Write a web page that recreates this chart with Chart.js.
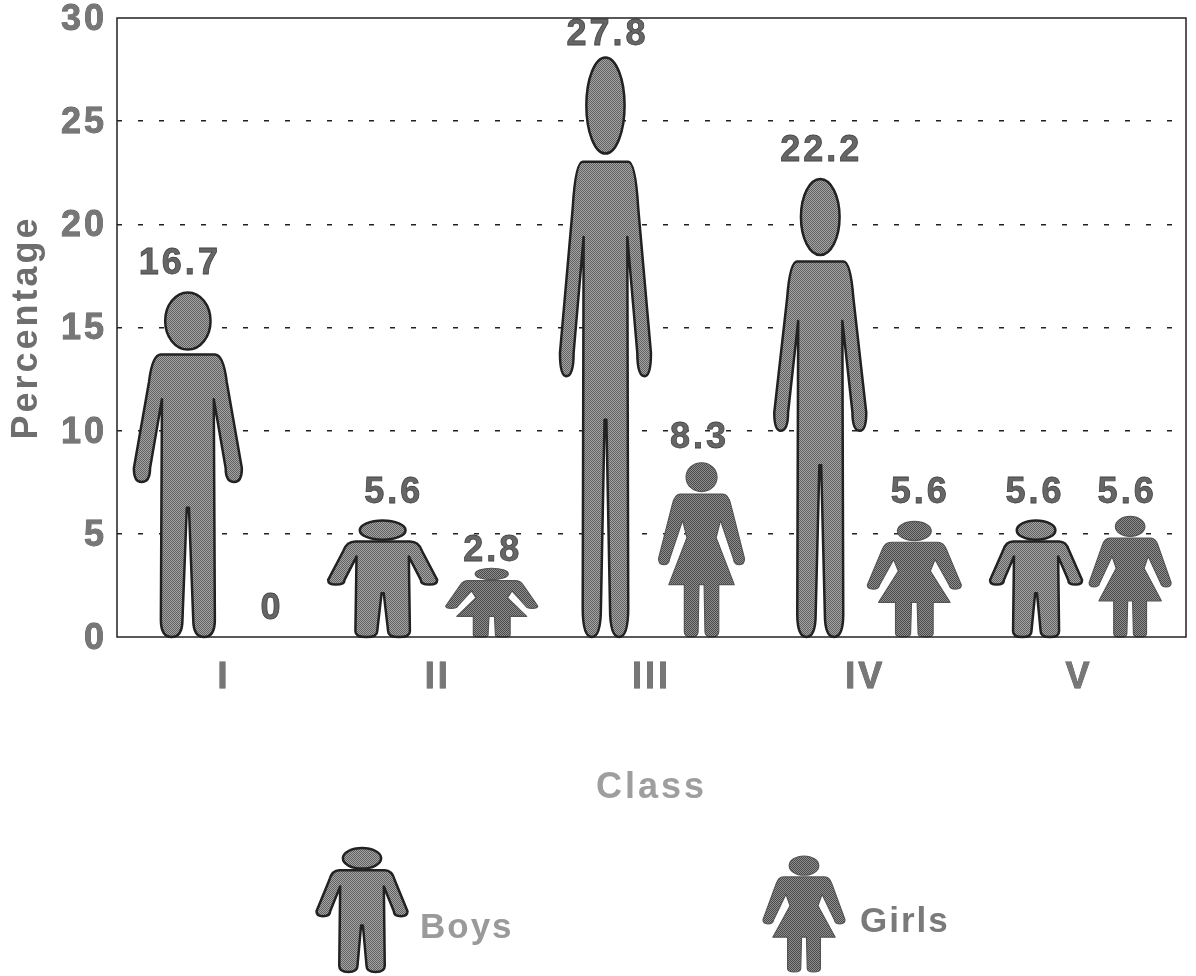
<!DOCTYPE html>
<html>
<head>
<meta charset="utf-8">
<title>Percentage by class</title>
<script src="https://cdn.jsdelivr.net/npm/chart.js@4/dist/chart.umd.min.js"></script>
<style>
  html, body { margin: 0; background: #fff; }
  canvas { display: block; }
</style>
</head>
<body>
<canvas id="classChart" width="1196" height="976"></canvas>
<script>
const categories = ['I', 'II', 'III', 'IV', 'V'];
const boys = [16.7, 5.6, 27.8, 22.2, 5.6];
const girls = [0, 2.8, 8.3, 5.6, 5.6];
const yTicks = [0, 5, 10, 15, 20, 25, 30];

// figure look per bar (px), the source picture is not quite regular
const boyWidth = [108, 109, 91, 92, 92];
const girlWidth = [0, 92, 86, 94, 82];
const boyShift = [11, -8, 1, 2, 4];
const girlShift = [0, 7, 3, 2, 4];
const boyExtra = [0, 1, 6, 0, 1];
const girlExtra = [0, 11, 3, 0, 5];
const girlLabelShift = [0, 7, 0, 7, 0];

// right half of each figure, a third element 1 = curve control point
const boyShape = [[0,.18],[.25,.18],[.33,.18,1],[.36,.26],[.5,.51],[.5,.55,1],[.43,.55],[.35,.55,1],[.35,.51],[.24,.31],[.25,.95],[.25,1,1],[.15,1],[.05,1,1],[.05,.95],[.01,.625]];
const girlShape = [[0,.18],[.25,.18],[.31,.18,1],[.34,.24],[.5,.55],[.5,.585,1],[.44,.585],[.38,.585,1],[.37,.55],[.22,.33],[.17,.43],[.38,.7],[.2,.7],[.2,.97],[.2,1,1],[.12,1],[.04,1,1],[.04,.97],[.03,.7],[0,.7]];

function halftone(ctx, dark, light) {
    const c = document.createElement('canvas');
    c.width = 2;
    c.height = 2;
    const p = c.getContext('2d');
    p.fillStyle = light;
    p.fillRect(0, 0, 2, 2);
    p.fillStyle = dark;
    p.fillRect(0, 0, 1, 1);
    p.fillRect(1, 1, 1, 1);
    return ctx.createPattern(c, 'repeat');
}

function tracePoints(ctx, pts, cx, top, w, h, dir) {
    for (let i = 0; i < pts.length; i++) {
        const pt = pts[i];
        const x = cx + dir * pt[0] * w;
        const y = top + pt[1] * h;
        if (pt[2] && pts[i + 1]) {
            const next = pts[i + 1];
            ctx.quadraticCurveTo(x, y, cx + dir * next[0] * w, top + next[1] * h);
            i++;
        } else {
            ctx.lineTo(x, y);
        }
    }
}

// cx = middle, top/bottom in pixels, w = full width
function drawFigure(ctx, kind, cx, top, bottom, w) {
    const shape = kind === 'boy' ? boyShape : girlShape;
    const h = bottom - top;
    ctx.save();
    ctx.lineJoin = 'round';
    if (kind === 'boy') {
        ctx.fillStyle = halftone(ctx, '#616161', '#a4a4a4');
        ctx.strokeStyle = '#222';
        ctx.lineWidth = 2.5;
    } else {
        ctx.fillStyle = halftone(ctx, '#4a4a4a', '#8e8e8e');
        ctx.strokeStyle = '#555';
        ctx.lineWidth = 1.2;
    }
    // head
    const headRx = (kind === 'boy' ? 0.21 : 0.18) * w;
    ctx.beginPath();
    ctx.ellipse(cx, top + h * 0.083, headRx, h * 0.083, 0, 0, Math.PI * 2);
    ctx.fill();
    ctx.stroke();
    // body, right side then mirrored
    ctx.beginPath();
    tracePoints(ctx, shape, cx, top, w, h, 1);
    tracePoints(ctx, shape.slice().reverse(), cx, top, w, h, -1);
    ctx.closePath();
    ctx.fill();
    ctx.stroke();
    ctx.restore();
}

const pictogram = {
    id: 'pictogram',
    beforeDraw(chart) {
        chart.ctx.letterSpacing = '3px';
    },
    afterDatasetsDraw(chart) {
        const ctx = chart.ctx;
        const area = chart.chartArea;
        const yScale = chart.scales.y;
        chart.getDatasetMeta(0).data.forEach((bar, i) => {
            const cx = bar.x + boyShift[i];
            drawFigure(ctx, 'boy', cx, bar.y - boyExtra[i], yScale.getPixelForValue(0), boyWidth[i]);
        });
        chart.getDatasetMeta(1).data.forEach((bar, i) => {
            if (girls[i] > 0) {
                drawFigure(ctx, 'girl', bar.x + girlShift[i], bar.y - girlExtra[i], yScale.getPixelForValue(0), girlWidth[i]);
            }
        });
        // value labels
        ctx.save();
        ctx.font = 'bold 36px "Liberation Sans"';
        ctx.textAlign = 'center';
        ctx.textBaseline = 'middle';
        ctx.fillStyle = '#666';
        ctx.strokeStyle = '#444';
        ctx.lineWidth = 0.8;
        chart.getDatasetMeta(0).data.forEach((bar, i) => {
            ctx.fillText(String(boys[i]), bar.x + 3, bar.y - 28);
            ctx.strokeText(String(boys[i]), bar.x + 3, bar.y - 28);
        });
        chart.getDatasetMeta(1).data.forEach((bar, i) => {
            ctx.fillText(String(girls[i]), bar.x + 1 + girlLabelShift[i], bar.y - 28);
            ctx.strokeText(String(girls[i]), bar.x + 1 + girlLabelShift[i], bar.y - 28);
        });
        ctx.restore();
        // plot frame
        ctx.save();
        ctx.strokeStyle = '#222';
        ctx.lineWidth = 1.5;
        ctx.strokeRect(area.left, area.top, area.right - area.left, area.bottom - area.top);
        ctx.restore();
    },
    afterDraw(chart) {
        const ctx = chart.ctx;
        drawFigure(ctx, 'boy', 362, 848, 972, 91);
        drawFigure(ctx, 'girl', 804, 856, 972, 82);
        ctx.save();
        ctx.font = 'bold 35px "Liberation Sans"';
        ctx.letterSpacing = '2px';
        ctx.textAlign = 'left';
        ctx.textBaseline = 'middle';
        ctx.fillStyle = '#9a9a9a';
        ctx.fillText(chart.data.datasets[0].label, 420, 928);
        ctx.fillStyle = '#7a7a7a';
        ctx.fillText(chart.data.datasets[1].label, 860, 922);
        ctx.restore();
    }
};

const ctx = document.getElementById('classChart').getContext('2d');
const classChart = new Chart(ctx, {
    type: 'bar',
    data: {
        labels: categories,
        datasets: [
            { label: 'Boys', data: boys, backgroundColor: 'transparent' },
            { label: 'Girls', data: girls, backgroundColor: 'transparent' }
        ]
    },
    options: {
        responsive: false,
        animation: false,
        categoryPercentage: 0.88,
        barPercentage: 1,
        layout: {
            padding: { top: 18, right: 10, bottom: 166, left: 5 }
        },
        plugins: {
            legend: { display: false },
            tooltip: { enabled: false }
        },
        scales: {
            x: {
                afterFit(scale) { scale.height = 173; },
                grid: { display: false },
                border: { display: false },
                ticks: {
                    padding: 11,
                    maxRotation: 0,
                    color: '#777',
                    textStrokeColor: '#555',
                    textStrokeWidth: 0.8,
                    font: { family: '"Liberation Sans"', size: 36, weight: 'bold' }
                },
                title: {
                    display: true,
                    text: 'Class',
                    color: '#9e9e9e',
                    padding: 0,
                    font: { family: '"Liberation Sans"', size: 36, weight: 'bold' }
                }
            },
            y: {
                min: 0,
                max: 30,
                afterFit(scale) {
                    scale.width = 112;
                    scale.paddingTop = 0;
                    scale.paddingBottom = 0;
                },
                afterBuildTicks(scale) { scale.ticks = yTicks.map(v => ({ value: v })); },
                grid: {
                    color: c => (c.tick.value > 0 && c.tick.value < 30 ? '#222' : 'transparent'),
                    lineWidth: 1.5,
                    tickLength: 0
                },
                border: { display: false, dash: [5, 16] },
                ticks: {
                    padding: 10,
                    labelOffset: 2,
                    color: '#777',
                    textStrokeColor: '#555',
                    textStrokeWidth: 0.8,
                    font: { family: '"Liberation Sans"', size: 36, weight: 'bold' }
                },
                title: {
                    display: true,
                    text: 'Percentage',
                    color: '#6e6e6e',
                    padding: 0,
                    font: { family: '"Liberation Sans"', size: 36, weight: 'bold' }
                }
            }
        }
    },
    plugins: [pictogram]
});
</script>
</body>
</html>
